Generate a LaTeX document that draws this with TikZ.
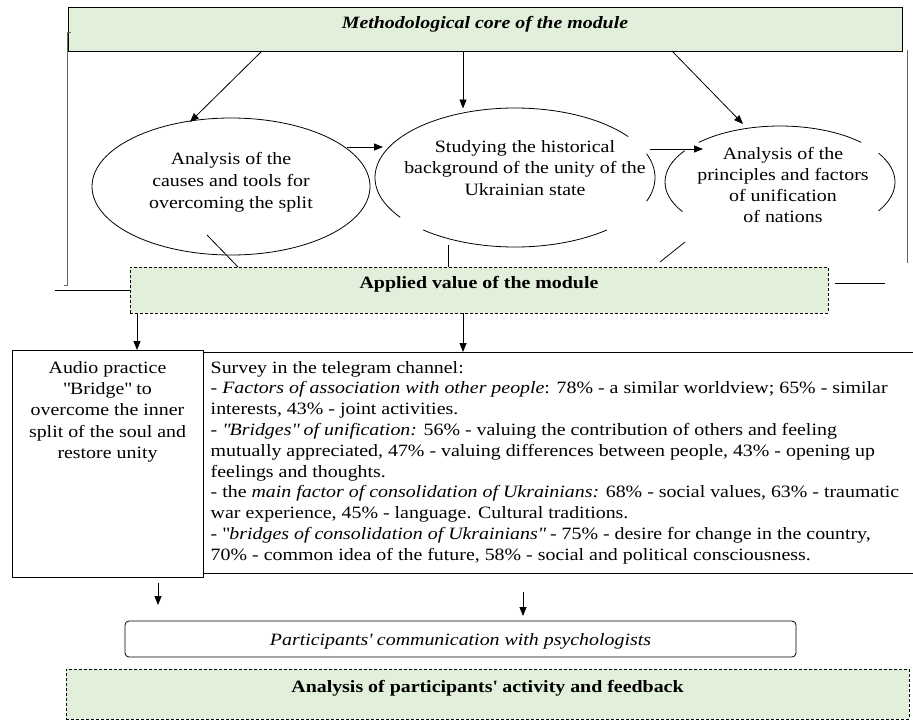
\documentclass[tikz,border=0pt]{standalone}
\usepackage{fontspec}
\setmainfont[FakeStretch=1.15]{Liberation Serif}
\usetikzlibrary{arrows.meta,shapes.geometric}
\definecolor{lgreen}{RGB}{226,239,218}
\newcommand{\qd}{\textquotedbl}
\begin{document}
\begin{tikzpicture}[x=1pt,y=1pt,line width=0.8pt,
  arr/.style={-{Triangle[length=9pt,width=7pt]}},
  greenbox/.style={draw, fill=lgreen, inner sep=0pt, outer sep=0pt},
  dashbox/.style={greenbox, dash pattern=on 3pt off 2pt},
  hidell/.style={ellipse, inner sep=0pt, outer sep=0pt}]
\useasboundingbox (0,0) rectangle (913,-721);

% top box
\node[greenbox, minimum width=834pt, minimum height=44pt, text height=12pt, text depth=14pt,
      font=\fontsize{17.3}{21}\selectfont\bfseries\itshape] (core) at (485,-29) {Methodological core of the module};

% ellipses
\node[hidell, draw, minimum width=278pt, minimum height=137pt] (e1) at (231,-186.5) {};
\node[hidell, minimum width=280pt, minimum height=139pt] (e2) at (515,-177.5) {};
\node[hidell, minimum width=230pt, minimum height=112pt] (e3) at (780,-182) {};
\draw (e2.center) ++(36:140pt and 69.5pt) arc[start angle=36,end angle=215,x radius=140pt,y radius=69.5pt];
\draw (e2.center) ++(229:140pt and 69.5pt) arc[start angle=229,end angle=311,x radius=140pt,y radius=69.5pt];
\draw (e2.center) ++(-20:140pt and 69.5pt) arc[start angle=-20,end angle=20,x radius=140pt,y radius=69.5pt];
\draw (e3.center) ++(45:115pt and 56pt) arc[start angle=45,end angle=135,x radius=115pt,y radius=56pt];
\draw (e3.center) ++(146:115pt and 56pt) arc[start angle=146,end angle=212,x radius=115pt,y radius=56pt];
\draw (e3.center) ++(-31:115pt and 56pt) arc[start angle=-31,end angle=31,x radius=115pt,y radius=56pt];

\node[align=center, anchor=base, font=\fontsize{17.3}{22}\selectfont] (e1t) at (231,-208)
  {Analysis of the\\causes and tools for\\overcoming the split};
\node[align=center, anchor=base, font=\fontsize{17.3}{21.5}\selectfont] (e2t) at (525,-195)
  {Studying the historical\\background of the unity of the\\Ukrainian state};
\node[align=center, anchor=base, font=\fontsize{17.3}{20.7}\selectfont] (e3t) at (783,-222)
  {Analysis of the\\principles and factors\\of unification\\of nations};

% arrows from top box
\coordinate (a1s) at (262,-51); \coordinate (a1e) at (190,-122);
\coordinate (a2s) at (463,-51); \coordinate (a2e) at (463,-108.5);
\coordinate (a3s) at (672,-51); \coordinate (a3e) at (743,-124);
\draw[arr] (a1s) -- (a1e);
\draw[arr] (a2s) -- (a2e);
\draw[arr] (a3s) -- (a3e);

% arrows between ellipses
\coordinate (p12a) at (347,-147); \coordinate (p12b) at (383,-147);
\coordinate (p23a) at (650,-149); \coordinate (p23b) at (703,-149);
\draw[arr] (p12a) -- (p12b);
\draw[arr] (p23a) -- (p23b);

% applied box
\node[dashbox, minimum width=698pt, minimum height=46pt, text height=12pt, text depth=16pt,
      font=\fontsize{17.3}{21}\selectfont\bfseries] (applied) at (479,-290) {Applied value of the module};

% lines from ellipses to applied box
\coordinate (l1a) at (207,-235); \coordinate (l1b) at (238,-267);
\coordinate (l2a) at (448,-245); \coordinate (l2b) at (448,-267);
\coordinate (l3a) at (685,-242); \coordinate (l3b) at (660,-262);
\draw (l1a) -- (l1b);
\draw (l2a) -- (l2b);
\draw (l3a) -- (l3b);

% side brackets
\draw[gray!80!black] (71,-32) -- (67,-32) -- (67,-285) -- (64,-285);
\coordinate (lb) at (55,-290);
\draw (applied.west) -- (lb);
\draw[gray!80!black] (907,-50) -- (907,-263);
\coordinate (rba) at (835,-283); \coordinate (rbb) at (885,-283);
\draw (rba) -- (rbb);

% audio box and survey
\node[draw, minimum width=191pt, minimum height=227pt, inner sep=0pt, outer sep=0pt, anchor=north west] (audio) at (12,-350) {};
\node[align=center, anchor=base, font=\fontsize{17.3}{21.4}\selectfont] (audiot) at (107.5,-458.6)
  {Audio practice\\\qd Bridge\qd{} to\\overcome the inner\\split of the soul and\\restore unity};
\draw (913,-352) -- (203,-352) (203,-573) -- (913,-573);
\node[align=left, anchor=base west, font=\fontsize{17.3}{20.8}\selectfont] (survey) at (207,-560.2)
  {Survey in the telegram channel:\\
   - \textit{Factors of association with other people}: 78\% - a similar worldview; 65\% - similar\\
   interests, 43\% - joint activities.\\
   - \textit{\qd Bridges\qd{} of unification:} 56\% - valuing the contribution of others and feeling\\
   mutually appreciated, 47\% - valuing differences between people, 43\% - opening up\\
   feelings and thoughts.\\
   - the \textit{main factor of consolidation of Ukrainians:} 68\% - social values, 63\% - traumatic\\
   war experience, 45\% - language. Cultural traditions.\\
   - \qd\textit{bridges of consolidation of Ukrainians\qd} - 75\% - desire for change in the country,\\
   70\% - common idea of the future, 58\% - social and political consciousness.};

\coordinate (b1s) at (137,-313); \coordinate (b1e) at (137,-350);
\coordinate (b2s) at (463,-313); \coordinate (b2e) at (463,-352);
\draw[arr] (b1s) -- (b1e);
\draw[arr] (b2s) -- (b2e);

% bottom
\coordinate (c1s) at (158,-583); \coordinate (c1e) at (158,-605);
\coordinate (c2s) at (523,-592); \coordinate (c2e) at (523,-616);
\draw[arr] (c1s) -- (c1e);
\draw[arr] (c2s) -- (c2e);

\node[draw, rounded corners=4pt, minimum width=671pt, minimum height=36pt, inner sep=0pt, text height=12pt, text depth=0pt,
      font=\fontsize{17.3}{21}\selectfont\itshape] (comm) at (460.5,-639)
  {Participants\textquotesingle{} communication with psychologists};

\node[dashbox, minimum width=843pt, minimum height=50pt, text height=12pt, text depth=14.6pt,
      font=\fontsize{17.3}{21}\selectfont\bfseries] (feedback) at (487.5,-694)
  {Analysis of participants\textquotesingle{} activity and feedback};
\end{tikzpicture}
\end{document}
